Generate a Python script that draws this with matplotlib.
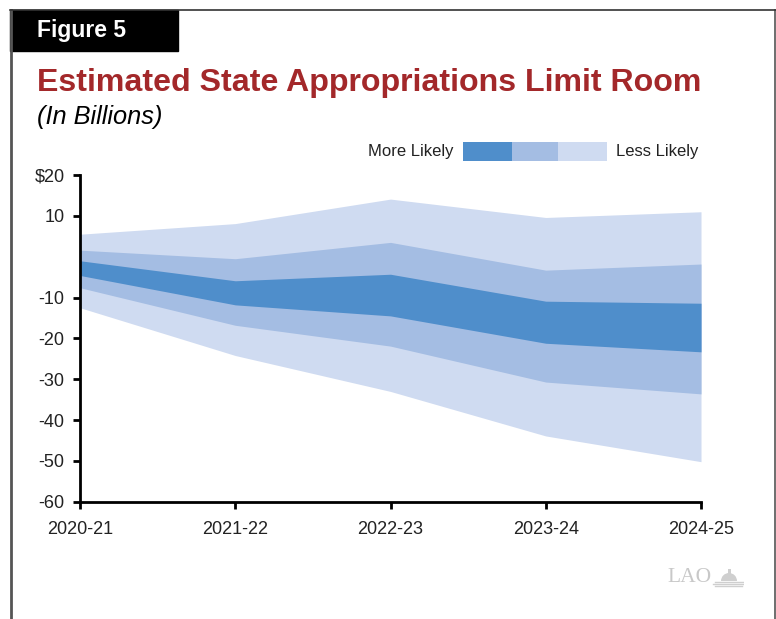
import numpy as np
import matplotlib.pyplot as plt
from matplotlib.patches import Rectangle, Wedge
from matplotlib.lines import Line2D

plt.rcParams['font.family'] = ['Liberation Sans', 'DejaVu Sans']

## range bands, billions
years = ["2020-21", "2021-22", "2022-23", "2023-24", "2024-25"]
outer_top = [5.5, 8.1, 14.1, 9.6, 11.0]
mid_top = [1.6, -0.5, 3.5, -3.3, -1.8]
inner_top = [-1.0, -5.9, -4.3, -10.9, -11.4]
inner_bot = [-4.6, -11.8, -14.5, -21.2, -23.3]
mid_bot = [-7.6, -16.8, -21.9, -30.7, -33.6]
outer_bot = [-12.5, -24.2, -33.0, -43.9, -50.2]

yticks = [20, 10, -10, -20, -30, -40, -50, -60]
ytick_labels = ["$20", "10", "-10", "-20", "-30", "-40", "-50", "-60"]

dark = "#4f8ecb"
mid = "#a4bde3"
light = "#cfdbf1"
red = "#a3282a"

W, H = 776, 619
fig = plt.figure(figsize=(W / 100, H / 100), dpi=100)
tf = fig.transFigure

# frame + header box
fig.add_artist(Line2D([11 / W, 11 / W], [0, 1 - 10 / H], color="#555555", lw=2, transform=tf))
fig.add_artist(Line2D([775 / W, 775 / W], [0, 1 - 10 / H], color="#555555", lw=1.2, transform=tf))
fig.add_artist(Line2D([10 / W, 776 / W], [1 - 10 / H, 1 - 10 / H], color="#333333", lw=1.2, transform=tf))
fig.add_artist(Rectangle((10 / W, 1 - 51 / H), 168 / W, 41 / H, color="black", transform=tf))
fig.text(37 / W, 1 - 31 / H, "Figure 5", color="white", fontsize=16.5, fontweight="bold", va="center")
fig.text(37 / W, 1 - 91 / H, "Estimated State Appropriations Limit Room", color=red,
         fontsize=23.1, fontweight="bold", va="baseline")
fig.text(37 / W, 1 - 124 / H, "(In Billions)", color="black", fontsize=18.3, style="italic", va="baseline")

# legend
fig.text(453 / W, 1 - 152 / H, "More Likely", fontsize=12, color="#222222", ha="right", va="center")
fig.text(616 / W, 1 - 152 / H, "Less Likely", fontsize=12, color="#222222", ha="left", va="center")
for x0, x1, c in [(463, 512, dark), (512, 558, mid), (558, 607, light)]:
    fig.add_artist(Rectangle((x0 / W, 1 - 161 / H), (x1 - x0) / W, 19 / H, color=c, lw=0, transform=tf))

# LAO mark (text + rough capitol dome)
fig.text(712 / W, 1 - 578 / H, "LAO", family="Liberation Serif", fontsize=15.5, color="#c8c8c8",
         ha="right", va="center")
logo = fig.add_axes([712 / W, 1 - 588 / H, 32 / W, 22 / H])
logo.set_xlim(0, 32)
logo.set_ylim(0, 22)
logo.axis("off")
logo.add_patch(Wedge((17, 7), 8, 0, 180, color="#cfcfcf", lw=0))
logo.add_patch(Rectangle((15.5, 14), 3, 5, color="#cfcfcf", lw=0))
for yy, x0, x1 in [(6, 3, 31), (4, 1, 32), (2, 3, 30)]:
    logo.plot([x0, x1], [yy, yy], color="#cfcfcf", lw=1)

ax = fig.add_axes([80 / W, 1 - 501.7 / H, 621 / W, 326.7 / H])
x = np.arange(len(years))
ax.fill_between(x, outer_bot, outer_top, color=light, lw=0)
ax.fill_between(x, mid_bot, mid_top, color=mid, lw=0)
ax.fill_between(x, inner_bot, inner_top, color=dark, lw=0)

ax.set_xlim(0, len(years) - 1)
ax.set_ylim(-60, 20)
ax.set_xticks(x)
ax.set_xticklabels(years, fontsize=13, color="#222222")
ax.set_yticks(yticks)
ax.set_yticklabels(ytick_labels, fontsize=13, color="#222222")
ax.tick_params(direction="out", length=5, width=2, pad=6)
ax.tick_params(axis="x", pad=9)
for s in ["top", "right"]:
    ax.spines[s].set_visible(False)
for s in ["left", "bottom"]:
    ax.spines[s].set_linewidth(2)
ax.patch.set_alpha(0)

fig.savefig("out.png", dpi=100)
